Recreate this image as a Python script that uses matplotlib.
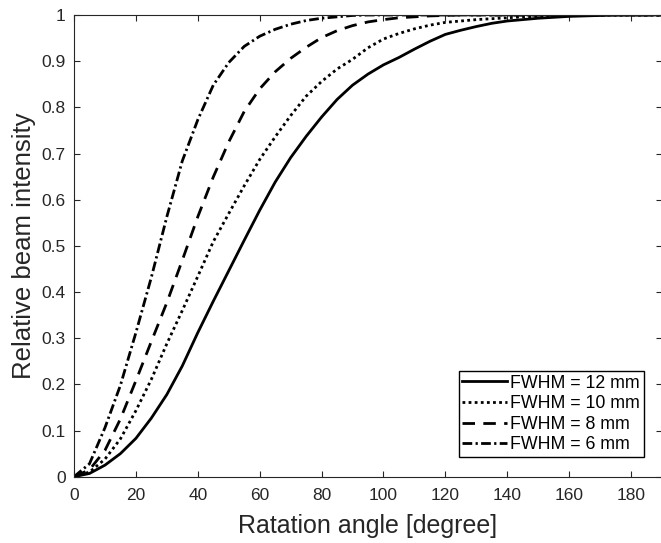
import numpy as np
import matplotlib
matplotlib.use("Agg")
import matplotlib.pyplot as plt
from matplotlib.ticker import FuncFormatter


# rotation angle [degree], read every 5 degrees off the figure
angle = np.arange(0, 195, 5)

# FWHM = 12 mm
I_12 = [0, 0.007, 0.025, 0.050, 0.083, 0.127, 0.178, 0.240, 0.312, 0.380,
        0.446, 0.512, 0.577, 0.638, 0.691, 0.737, 0.779, 0.817, 0.848, 0.872,
        0.892, 0.908, 0.926, 0.943, 0.958, 0.967, 0.975, 0.982, 0.987, 0.990,
        0.993, 0.995, 0.997, 0.998, 0.999, 1.0, 1.0, 1.0, 1.0]

# FWHM = 10 mm
I_10 = [0, 0.010, 0.038, 0.082, 0.143, 0.211, 0.288, 0.360, 0.434, 0.509,
        0.570, 0.630, 0.687, 0.736, 0.782, 0.824, 0.856, 0.883, 0.904, 0.929,
        0.948, 0.960, 0.970, 0.978, 0.984, 0.987, 0.990, 0.992, 0.994, 0.996,
        0.997, 0.998, 0.999, 1.0, 1.0, 1.0, 1.0, 1.0, 1.0]

# FWHM = 8 mm
I_8 = [0, 0.015, 0.057, 0.125, 0.208, 0.293, 0.377, 0.469, 0.563, 0.649,
       0.725, 0.791, 0.840, 0.877, 0.906, 0.930, 0.951, 0.966, 0.977, 0.985,
       0.990, 0.994, 0.996, 0.998, 0.999, 1.0, 1.0, 1.0, 1.0, 1.0,
       1.0, 1.0, 1.0, 1.0, 1.0, 1.0, 1.0, 1.0, 1.0]

# FWHM = 6 mm
I_6 = [0, 0.028, 0.106, 0.198, 0.312, 0.432, 0.563, 0.684, 0.773, 0.848,
       0.897, 0.932, 0.954, 0.969, 0.980, 0.988, 0.993, 0.996, 0.999, 1.0,
       1.0, 1.0, 1.0, 1.0, 1.0, 1.0, 1.0, 1.0, 1.0, 1.0,
       1.0, 1.0, 1.0, 1.0, 1.0, 1.0, 1.0, 1.0, 1.0]

labels = ["FWHM = 12 mm", "FWHM = 10 mm", "FWHM = 8 mm", "FWHM = 6 mm"]

plt.rcParams['font.family'] = ['Liberation Sans', 'DejaVu Sans']
gris = "#262626"

fig = plt.figure(figsize=(6.61, 5.43), dpi=100)
# right spine sits just outside the picture, like in the original
ax = fig.add_axes([74 / 661, 66.3 / 543, 588 / 661, 461.7 / 543])

ax.plot(angle, I_12, color="k", lw=2, linestyle="-", label=labels[0])
ax.plot(angle, I_10, color="k", lw=2, linestyle=(0, (1.0, 1.2)), label=labels[1])
ax.plot(angle, I_8, color="k", lw=2, linestyle=(0, (4.5, 3.0)), label=labels[2])
ax.plot(angle, I_6, color="k", lw=2, linestyle=(0, (3.5, 1.2, 0.8, 1.2)), label=labels[3])

ax.set_xlim(0, 190)
ax.set_ylim(0, 1)
ax.set_xticks(np.arange(0, 190, 20))
ax.set_yticks(np.arange(0, 1.01, 0.1))
ax.yaxis.set_major_formatter(FuncFormatter(lambda v, p: f"{v:g}"))

ax.tick_params(direction="in", length=4.5, width=0.8, colors=gris,
               labelsize=12.5, top=True, right=True, pad=6)
ax.tick_params(axis="x", pad=8)
for s in ax.spines.values():
    s.set_color(gris)
    s.set_linewidth(0.8)

ax.set_xlabel("Ratation angle [degree]", fontsize=18, color=gris, labelpad=8)
ax.set_ylabel("Relative beam intensity", fontsize=18.5, color=gris, labelpad=4)

leg = ax.legend(loc="lower right", bbox_to_anchor=(0.969, 0.043), borderaxespad=0,
                fontsize=12.8, frameon=True, fancybox=False, framealpha=1,
                edgecolor="k", handlelength=2.5, handletextpad=0.2,
                borderpad=0.2, labelspacing=0.2)
leg.get_frame().set_linewidth(1.0)

fig.savefig("out.png", dpi=100)
